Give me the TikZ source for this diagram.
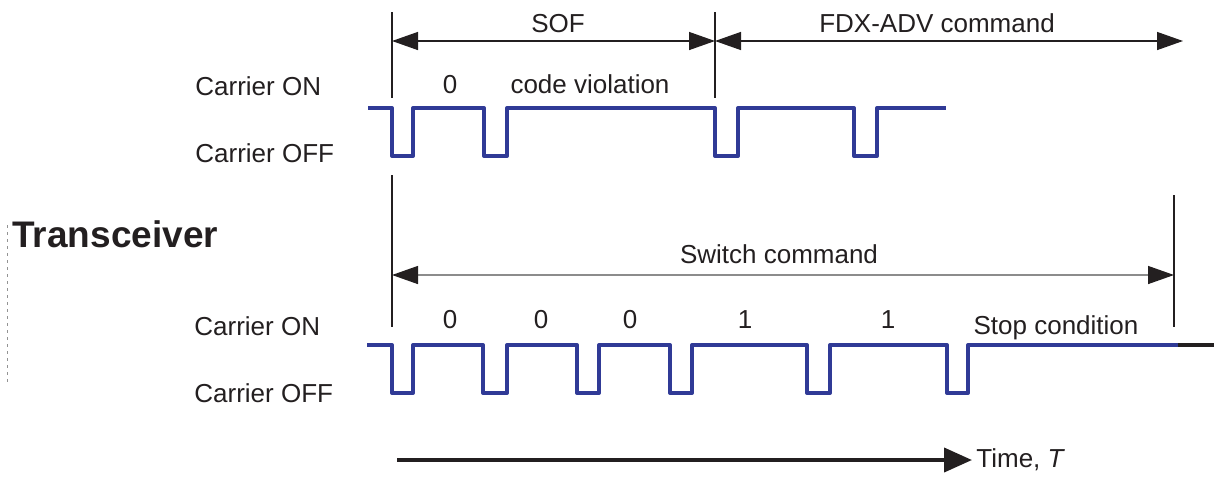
\documentclass[tikz,border=0pt]{standalone}
\usepackage{fontspec}
\setmainfont{Liberation Sans}
\usepackage{xcolor}
\usepackage{tikz}
\usetikzlibrary{arrows.meta, positioning, calc}

\definecolor{wireblue}{RGB}{48,58,150}
\definecolor{inkgray}{RGB}{35,31,32}

\begin{document}
\begin{tikzpicture}[x=0.5pt,y=-0.5pt,
    wave/.style={wireblue,line width=2pt,line join=round},
    tick/.style={inkgray,line width=0.8pt},
    dimarrow/.style={inkgray,line width=0.7pt,{Triangle[length=13pt,width=9pt,color=inkgray]}-{Triangle[length=13pt,width=9pt,color=inkgray]}},
    lbl/.style={inkgray,font=\fontsize{13}{15}\selectfont,anchor=base,inner sep=0pt},
    sidelbl/.style={lbl,anchor=base west}]
  \useasboundingbox (0,0) rectangle (1214,478);

  % Tick marks and dimension points
  \coordinate (sofL) at (392,41);
  \coordinate (sofR) at (715,41);
  \coordinate (fdxR) at (1183,41);
  \coordinate (swL) at (392,275);
  \coordinate (swR) at (1174,275);

  \draw[tick] (392,12) -- (392,98);
  \draw[tick] (715,12) -- (715,98);
  \draw[tick] (392,175) -- (392,327);
  \draw[tick] (1174,195) -- (1174,327);

  % Dimension arrows
  \draw[dimarrow] (sofL) -- (sofR);
  \draw[dimarrow] (sofR) -- (fdxR);
  \draw[dimarrow,draw=gray!90] (swL) -- (swR);

  \node[lbl] (sof) at (558,32) {SOF};
  \node[lbl] (fdx) at (937,32) {FDX-ADV command};
  \node[lbl] (switch) at (779,263) {Switch command};

  % Upper waveform
  \draw[wave] (368,108) foreach \a/\b in {392/413,484/507,715/738,854/877}
    { -- (\a,108) -- (\a,156) -- (\b,156) -- (\b,108) } -- (946,108);

  \node[sidelbl] (onA) at (195,95) {Carrier ON};
  \node[sidelbl] (offA) at (195,162) {Carrier OFF};
  \node[lbl] (bitA) at (450,93) {0};
  \node[lbl] (viol) at (590,93) {code violation};

  % Transceiver label
  \node[inkgray,font=\fontsize{18.5}{20}\selectfont\bfseries,anchor=base west,inner sep=0pt] (trx) at (12,247) {Transceiver};
  \draw[gray!85,line width=0.5pt,dash pattern=on 1.5pt off 2pt] (7,225) -- (7,385);

  % Lower waveform
  \draw[wave] (367,345) foreach \a/\b in {392/413,483/507,577/599,670/692,807/830,947/968}
    { -- (\a,345) -- (\a,393) -- (\b,393) -- (\b,345) } -- (1178,345);
  \draw[inkgray,line width=2pt] (1178,345) -- (1214,345);

  \node[sidelbl] (onB) at (194,335) {Carrier ON};
  \node[sidelbl] (offB) at (194,402) {Carrier OFF};
  \foreach \x/\t [count=\i] in {450/0,541/0,630/0,745/1,888/1}
    \node[lbl] (bitB\i) at (\x,328) {\t};
  \node[lbl] (stop) at (1056,334) {Stop condition};

  % Time axis
  \coordinate (tstart) at (397,460);
  \node[inkgray,font=\fontsize{13}{15}\selectfont,anchor=west,inner sep=2pt] (time) at (972,460) {Time, \textit{T}};
  \draw[inkgray,line width=2pt,-{Triangle[length=14pt,width=12pt]}] (tstart) -- (time.west);
\end{tikzpicture}
\end{document}
